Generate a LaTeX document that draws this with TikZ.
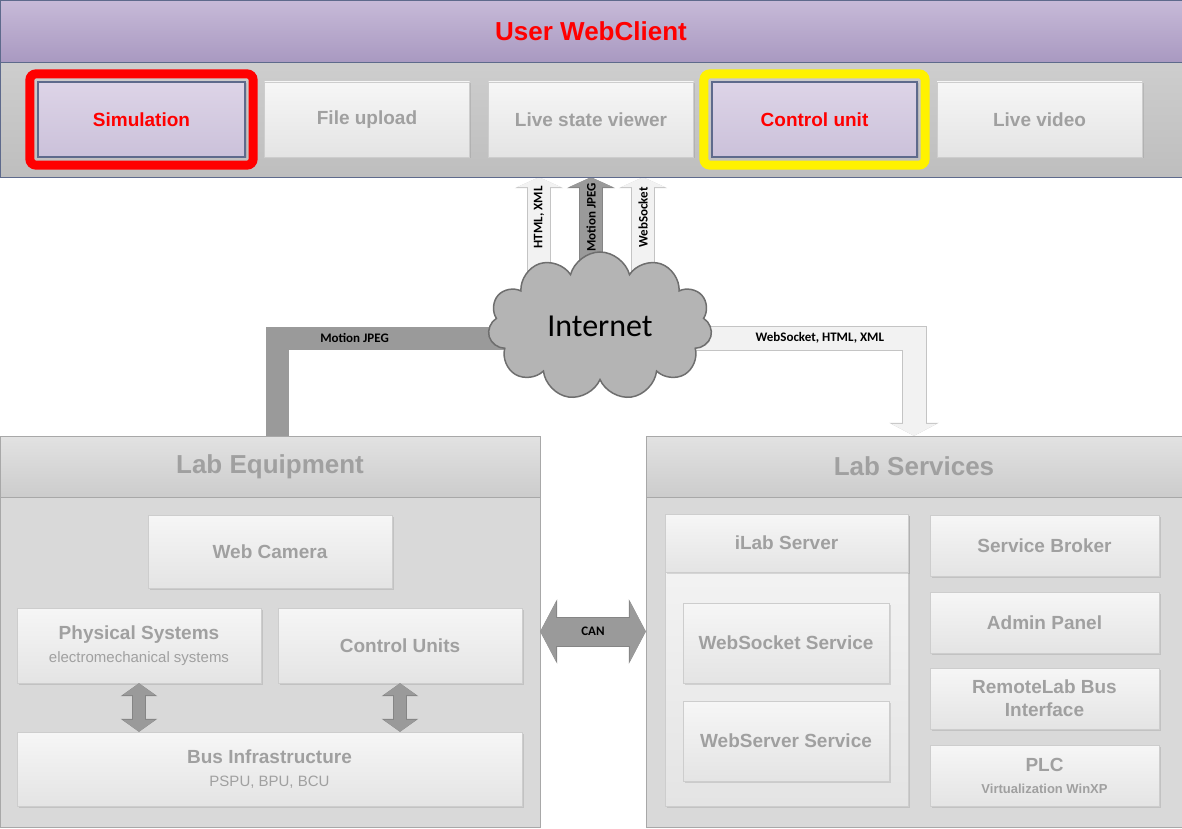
\documentclass[tikz,border=0pt]{standalone}
\usepackage{fontspec}
\setmainfont{Liberation Sans}
\newfontfamily\calib{Carlito}
\usetikzlibrary{arrows.meta,shapes.symbols,fit,shadows,backgrounds}

\definecolor{greytxt}{HTML}{A0A0A0}
\definecolor{lilactop}{HTML}{C7BAD8}
\definecolor{lilacbot}{HTML}{A999C1}
\definecolor{lilacline}{HTML}{5E6A8C}
\definecolor{picktop}{HTML}{DDD4E7}
\definecolor{pickbot}{HTML}{CBC1DA}
\definecolor{bandtop}{HTML}{D6D6D6}
\definecolor{bandbot}{HTML}{BEBEBE}
\definecolor{tiletop}{HTML}{F6F6F6}
\definecolor{tilebot}{HTML}{E4E4E4}
\definecolor{tileline}{HTML}{CDCDCD}
\definecolor{panefill}{HTML}{D9D9D9}
\definecolor{paneline}{HTML}{A8A8A8}
\definecolor{headtop}{HTML}{E2E2E2}
\definecolor{headbot}{HTML}{CCCCCC}
\definecolor{cloudfill}{HTML}{B4B4B4}
\definecolor{cloudline}{HTML}{6E6E6E}
\definecolor{pipegrey}{HTML}{9A9A9A}
\definecolor{pipedark}{HTML}{858585}
\definecolor{pipelight}{HTML}{F2F2F2}
\definecolor{pipeline}{HTML}{C4C4C4}

\begin{document}
\begin{tikzpicture}[x=1pt,y=-1pt,
  tile/.style={shape=rectangle,draw=tileline,top color=tiletop,bottom color=tilebot,align=center,text=greytxt,inner sep=0pt,font=\bfseries\fontsize{19}{23}\selectfont,drop shadow={shadow xshift=1.5pt,shadow yshift=-1.5pt,opacity=0.25}},
  btn/.style={tile,minimum width=205,minimum height=75},
  picked/.style={btn,draw=lilacline,line width=1.2pt,top color=picktop,bottom color=pickbot,text=red},
  side/.style={tile,minimum width=229,minimum height=61},
  pane/.style={shape=rectangle,draw=paneline,fill=panefill,inner sep=0pt},
  panehead/.style={pane,top color=headtop,bottom color=headbot,text=greytxt,font=\bfseries\fontsize{26}{30}\selectfont},
  hilite/.style={draw=#1,line width=9pt,rounded corners=6pt,inner sep=7.5pt},
  lbl/.style={font=\calib\bfseries\fontsize{13}{15}\selectfont,text=black,inner sep=0pt},
  uparrow/.style 2 args={draw=#1,line width=22pt,-{Triangle[length=10pt,width=44pt]},preaction={draw=#2,line width=24pt,-{Triangle[length=11pt,width=48pt]}}},
  mjpipe/.style={draw=pipegrey,line width=23pt},
  wspipe/.style={draw=pipelight,line width=23pt,-{Triangle[length=12pt,width=45pt]},preaction={draw=pipeline,line width=25pt,-{Triangle[length=13pt,width=49pt]}}},
  canarrow/.style={draw=pipegrey,line width=28pt,{Triangle[length=16pt,width=60pt]}-{Triangle[length=16pt,width=60pt]},preaction={draw=pipedark,line width=30pt,{Triangle[length=17pt,width=64pt]}-{Triangle[length=17pt,width=64pt]}}},
  busarrow/.style={draw=pipegrey,line width=12pt,{Triangle[length=12pt,width=32pt]}-{Triangle[length=12pt,width=32pt]},preaction={draw=pipedark,line width=14pt,{Triangle[length=13pt,width=36pt]}-{Triangle[length=13pt,width=36pt]}}}]
\useasboundingbox (0,0) rectangle (1182,829);

% web client
\node (client) [pane,draw=lilacline,top color=bandtop,bottom color=bandbot,minimum width=1182,minimum height=177] at (591,88.5) {};
\node (head) [pane,draw=lilacline,top color=lilactop,bottom color=lilacbot,minimum width=1182,minimum height=62,text=red,font=\bfseries\fontsize{26}{30}\selectfont] at (591,31) {User WebClient};
\node (sim) [picked,minimum width=207] at (141.5,119.5) {Simulation};
\node (upload) [btn] at (367,119.5) {File upload};
\node (viewer) [btn] at (591,119.5) {Live state viewer};
\node (unit) [picked] at (814.5,119.5) {Control unit};
\node (video) [btn] at (1039.5,119.5) {Live video};
\node (simframe) [hilite=red,fit=(sim)] {};
\node (unitframe) [hilite=yellow,fit=(unit)] {};

\node (net) [cloud,cloud puffs=11,aspect=1.5,draw=cloudline,line width=1.5pt,fill=cloudfill,minimum width=224,minimum height=148,inner sep=0pt,font=\calib\fontsize{32}{36}\selectfont] at (600,326) {Internet};

% lab equipment
\node (labeq) [pane,minimum width=540,minimum height=391] at (270,631.5) {};
\node (labeqhead) [panehead,minimum width=540,minimum height=61] at (270,466.5) {Lab Equipment};
\node (cam) [tile,minimum width=244,minimum height=73] at (270,551.5) {Web Camera};
\node (phys) [tile,minimum width=244,minimum height=75] at (139,645.5) {Physical Systems\\{\mdseries\fontsize{15}{18}\selectfont electromechanical systems}};
\node (ctrl) [tile,minimum width=244,minimum height=75] at (400,645.5) {Control Units};
\node (bus) [tile,minimum width=505,minimum height=74] at (269.5,769) {Bus Infrastructure\\{\mdseries\fontsize{15}{18}\selectfont PSPU, BPU, BCU}};

% lab services
\node (labsrv) [pane,minimum width=536,minimum height=391] at (914,631.5) {};
\node (labsrvhead) [panehead,minimum width=536,minimum height=61] at (914,466.5) {Lab Services};
\node (ilab) [tile,minimum width=243,minimum height=292] at (786.5,660) {};
\node (ilabhead) [tile,minimum width=243,minimum height=58] at (786.5,543) {iLab Server};
\node (wsock) [tile,minimum width=206,minimum height=80] at (786,643) {WebSocket Service};
\node (wserv) [tile,minimum width=206,minimum height=80] at (786,741) {WebServer Service};
\node (broker) [side] at (1044.5,545.5) {Service Broker};
\node (admin) [side] at (1044.5,622.5) {Admin Panel};
\node (rlbus) [side] at (1044.5,698.5) {RemoteLab Bus\\Interface};
\node (plc) [side] at (1044.5,775.5) {PLC\\[-1pt]{\fontsize{13}{15}\selectfont Virtualization WinXP}};

% links to the cloud
\begin{scope}[on background layer]
\coordinate (tap) at ([yshift=-12pt]net.center);
\coordinate (up1) at ([xshift=-61pt]net.center);
\coordinate (up2) at ([xshift=-9pt]net.center);
\coordinate (up3) at ([xshift=43pt]net.center);
\draw[uparrow={pipelight}{pipeline}] (up1) -- (up1 |- client.south) node[lbl,pos=0.73,rotate=90] {HTML, XML};
\draw[uparrow={pipegrey}{pipedark}] (up2) -- (up2 |- client.south) node[lbl,pos=0.73,rotate=90] {Motion JPEG};
\draw[uparrow={pipelight}{pipeline}] (up3) -- (up3 |- client.south) node[lbl,pos=0.73,rotate=90] {WebSocket};
\draw[mjpipe] ([xshift=7pt]labeqhead.north) |- (tap) node[lbl,pos=0.62] {Motion JPEG};
\draw[wspipe] (tap) -| (labsrvhead.north) node[lbl,pos=0.35] {WebSocket, HTML, XML};
\end{scope}

\draw[canarrow] (labeq.east) -- (labsrv.west) node[lbl,midway] {CAN};
\draw[busarrow] (phys.south) -- (phys.south |- bus.north);
\draw[busarrow] (ctrl.south) -- (ctrl.south |- bus.north);
\end{tikzpicture}
\end{document}
